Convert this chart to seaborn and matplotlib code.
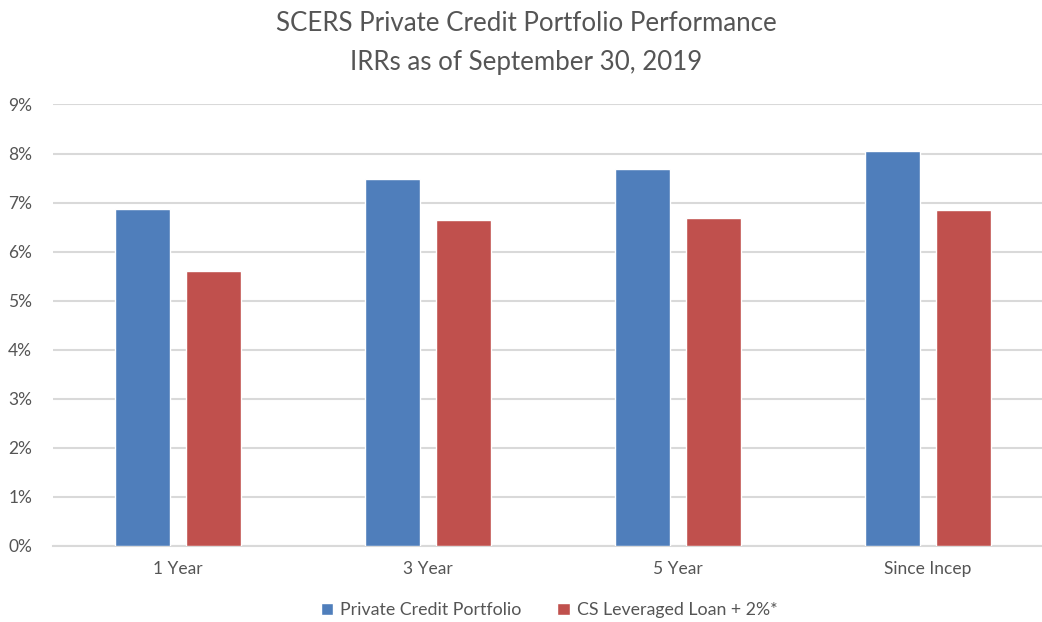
"""
SCERS private credit IRRs vs. benchmark, grouped bar chart.
"""

import matplotlib
matplotlib.use("Agg")
import matplotlib.pyplot as plt
import pandas as pd
import seaborn as sns
from matplotlib.ticker import PercentFormatter

# Data
periods = ["1 Year", "3 Year", "5 Year", "Since Incep"]
series_names = ["Private Credit Portfolio", "CS Leveraged Loan + 2%*"]
portfolio_irr = [0.0686, 0.0748, 0.0769, 0.0806]
benchmark_irr = [0.0561, 0.0665, 0.0668, 0.0684]
y_ticks = [0.00, 0.01, 0.02, 0.03, 0.04, 0.05, 0.06, 0.07, 0.08, 0.09]

BLUE = "#4F7EBB"
RED = "#C0504D"
TEXT = "#555555"
GRID = "#D9D9D9"

df = pd.DataFrame({
    "period": periods * 2,
    "series": [series_names[0]] * len(periods) + [series_names[1]] * len(periods),
    "irr": portfolio_irr + benchmark_irr,
})

sns.set_theme(style="white")
plt.rcParams["font.family"] = ["Lato", "DejaVu Sans"]

fig = plt.figure(figsize=(10.42, 6.22), dpi=100)
ax = fig.add_axes([0.0509, 0.1222, 0.9491, 0.7098])

sns.barplot(data=df, x="period", y="irr", hue="series", order=periods,
            hue_order=series_names, palette=[BLUE, RED], width=0.568,
            gap=0.225, saturation=1, ax=ax, legend=True, zorder=3)

ax.set_ylim(0, 0.09)
ax.set_yticks(y_ticks)
ax.yaxis.set_major_formatter(PercentFormatter(1.0, decimals=0))
ax.set_xlim(-0.5, -0.5 + (1042 - 53) / 250)
ax.grid(axis="y", color=GRID, linewidth=1.5, zorder=0)
ax.set_axisbelow(True)
for side in ["top", "right", "left"]:
    ax.spines[side].set_visible(False)
ax.spines["bottom"].set_color(GRID)
ax.spines["bottom"].set_linewidth(1.5)
ax.set_xlabel("")
ax.set_ylabel("")
ax.tick_params(axis="both", length=0, colors=TEXT, labelsize=12.5)
ax.tick_params(axis="x", pad=11)
ax.tick_params(axis="y", pad=15)

handles, labels = ax.get_legend_handles_labels()
ax.get_legend().remove()
fig.legend(handles, labels, loc="center", bbox_to_anchor=(0.527, 0.019),
           ncol=2, frameon=False, fontsize=12.8, labelcolor=TEXT,
           handlelength=0.7, handleheight=0.7, handletextpad=0.4,
           columnspacing=2.0)

fig.text(0.505, 0.963, "SCERS Private Credit Portfolio Performance",
         ha="center", va="center", fontsize=18.6, color=TEXT)
fig.text(0.505, 0.899, "IRRs as of September 30, 2019",
         ha="center", va="center", fontsize=18.6, color=TEXT)

plt.savefig("out.png", dpi=100)
plt.close()
